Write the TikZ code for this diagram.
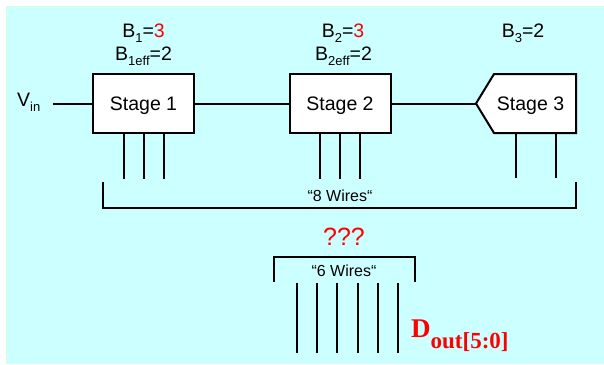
\documentclass[tikz,border=0pt]{standalone}
\usepackage{fontspec}
\setmainfont{Liberation Sans}
\newfontfamily\doutfont{Liberation Serif}
\newcommand{\lowsub}[1]{\raisebox{-5pt}{\fontsize{13}{13}\selectfont #1}}
\definecolor{slidebg}{RGB}{204,255,255}
\definecolor{slideedge}{RGB}{214,255,214}
\definecolor{hotred}{RGB}{255,0,0}

\begin{document}
\begin{tikzpicture}[
    x=1pt, y=-1pt,
    stagebox/.style={
        rectangle, draw, fill=white, line width=2pt,
        minimum width=101pt, minimum height=59pt,
        text depth=0pt, font=\fontsize{19.5}{20}\selectfont
    },
    blabel/.style={anchor=base, inner sep=0pt, font=\fontsize{19.5}{20}\selectfont},
    wirelabel/.style={anchor=base, inner sep=0pt, font=\fontsize{16}{16}\selectfont},
    wire/.style={line width=2pt}
]
\useasboundingbox (0,0) rectangle (604,364);

% Slide background
\fill[slidebg] (7,7) rectangle (604,364);
\draw[slideedge, line width=1pt] (6.5,364) -- (6.5,6.5) -- (604,6.5);

% Stages
\node[stagebox] (stage1) at (143.5,103.5) {Stage 1};
\node[stagebox] (stage2) at (340,103.5) {Stage 2};
\coordinate (s3tip) at (476,103.5);
\draw[wire, fill=white] (s3tip) -- (494,74) -- (576,74) -- (576,133) -- (494,133) -- cycle;
\node[font=\fontsize{19.5}{20}\selectfont, text depth=0pt] (stage3) at (530.5,103.5) {Stage 3};

% Input
\node[blabel, anchor=base west] (vin) at (17,106) {V\lowsub{in}};
\coordinate (vinend) at (53,103.5);
\draw[wire] (vinend) -- (stage1.west);
\draw[wire] (stage1.east) -- (stage2.west);
\draw[wire] (stage2.east) -- (s3tip);

% Bits per stage
\node[blabel] (b1) at (143.5,37) {B\lowsub{1}=\textcolor{hotred}{3}};
\node[blabel] (b1eff) at (143.5,60) {B\lowsub{1eff}=2};
\node[blabel] (b2) at (343,37) {B\lowsub{2}=\textcolor{hotred}{3}};
\node[blabel] (b2eff) at (343.5,60) {B\lowsub{2eff}=2};
\node[blabel] (b3) at (523,37) {B\lowsub{3}=2};

% Output wires
\foreach \x in {124,144,164}
    \draw[wire] (stage1.south -| \x,0) -- (\x,179);
\foreach \x in {320,340,360}
    \draw[wire] (stage2.south -| \x,0) -- (\x,179);
\foreach \x in {516,556}
    \draw[wire] (\x,133) -- (\x,178);

% 8 wires bracket
\draw[wire] (103,182) -- (103,208) -- (576,208) -- (576,182);
\node[wirelabel] (eight) at (340,201) {“8 Wires“};

% Encoder output
\node[blabel, text=hotred, font=\fontsize{25}{25}\selectfont] (what) at (344,245) {???};
\draw[wire] (274,282) -- (274,257) -- (415,257) -- (415,282);
\node[wirelabel] (six) at (344,276) {“6 Wires“};
\foreach \x in {297,317.2,337.4,357.6,377.8,398}
    \draw[wire] (\x,283) -- (\x,353);
\node[anchor=base west, inner sep=0pt, text=hotred] (dout) at (411,337)
    {\doutfont\bfseries\fontsize{27}{27}\selectfont D\raisebox{-11pt}{\fontsize{23}{23}\selectfont out[5:0]}};

\end{tikzpicture}
\end{document}
